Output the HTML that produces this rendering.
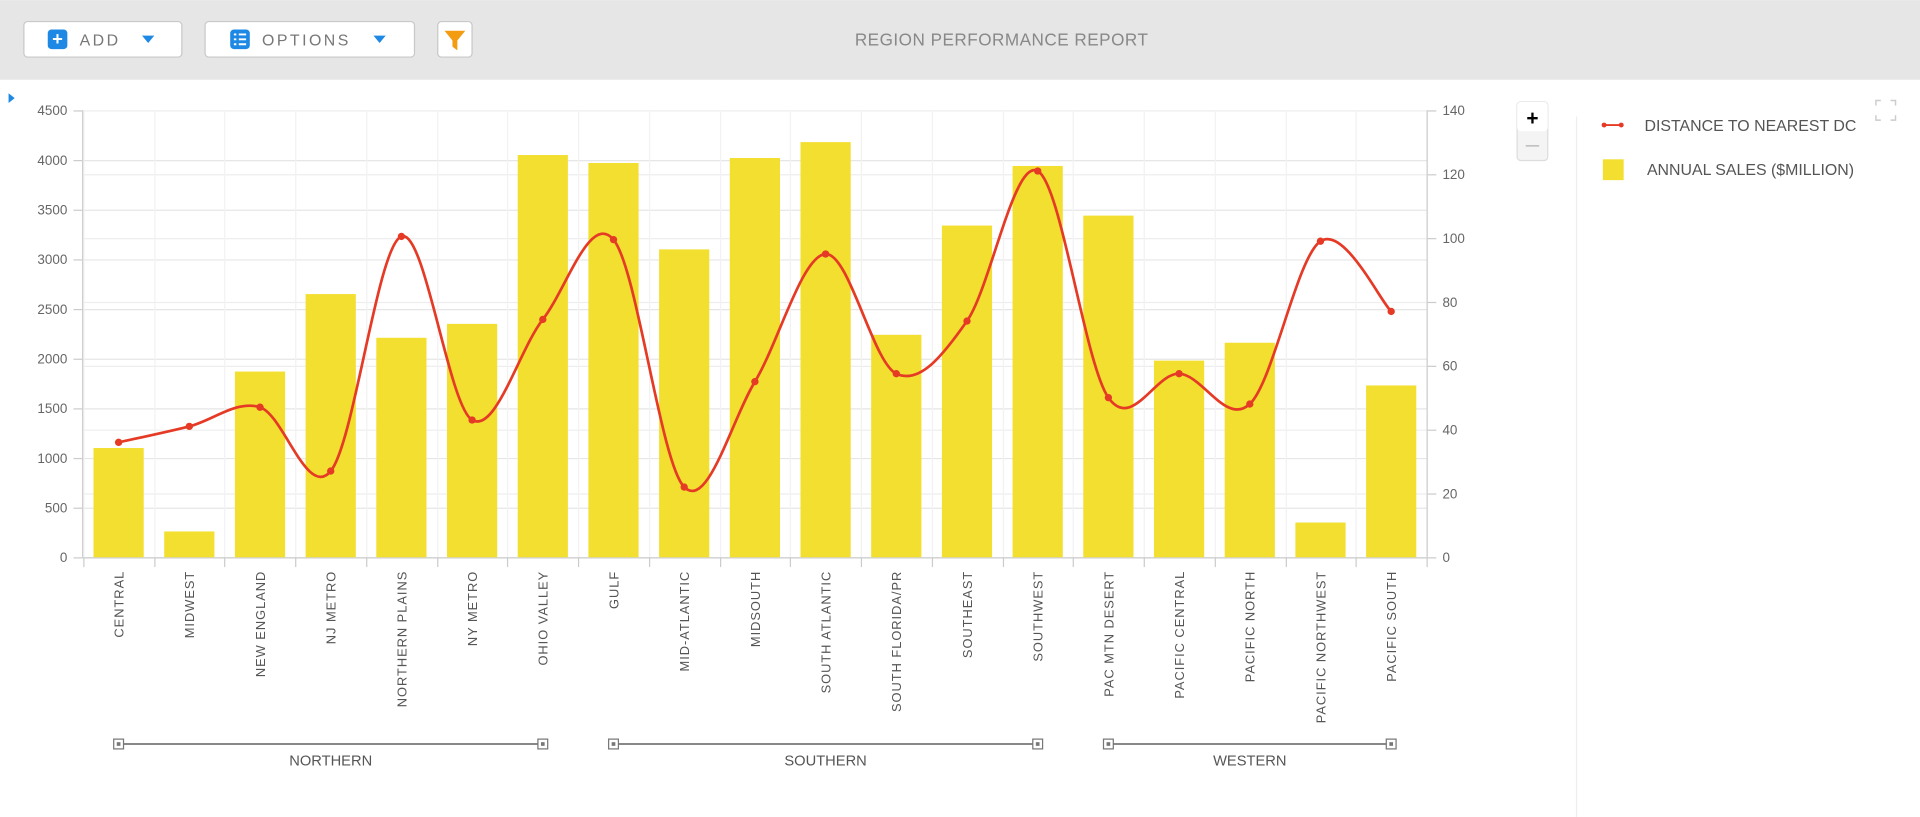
<!DOCTYPE html>
<html><head><meta charset="utf-8">
<style>
html,body{margin:0;padding:0;width:1920px;height:817px;overflow:hidden;background:#fff;font-family:"Liberation Sans",sans-serif;}
svg text{font-family:"Liberation Sans",sans-serif;}
</style></head>
<body>
<svg id="chart" width="1920" height="817" viewBox="0 0 1568 667" xmlns="http://www.w3.org/2000/svg">
  <rect x="0" y="0" width="1568" height="65" fill="#e6e6e6"/>
  <g>
    <rect x="19.5" y="17.5" width="129" height="29" rx="3" fill="#fff" stroke="#c8c8c8"/>
    <rect x="39" y="24" width="16" height="16" rx="3" fill="#1e88e5"/>
    <text x="47" y="36.5" font-size="15" fill="#fff" text-anchor="middle" font-weight="bold">+</text>
    <text x="65" y="37" font-size="13" fill="#777" letter-spacing="2">ADD</text>
    <path d="M116 29 L126 29 L121 35 Z" fill="#1e88e5"/>
  </g>
  <g>
    <rect x="167.5" y="17.5" width="171" height="29" rx="3" fill="#fff" stroke="#c8c8c8"/>
    <rect x="188" y="24" width="16" height="16" rx="3" fill="#1e88e5"/>
    <path d="M191 28h2M195 28h6M191 32h2M195 32h6M191 36h2M195 36h6" stroke="#fff" stroke-width="1.6"/>
    <text x="214" y="37" font-size="13" fill="#777" letter-spacing="2">OPTIONS</text>
    <path d="M305 29 L315 29 L310 35 Z" fill="#1e88e5"/>
  </g>
  <g>
    <rect x="357.5" y="17.5" width="28" height="29" rx="3" fill="#fff" stroke="#c8c8c8"/>
    <path d="M363 25 L380 25 L373.5 33 L373.5 41 L369.5 38 L369.5 33 Z" fill="#f39c12"/>
  </g>
  <text x="818" y="37" font-size="14" fill="#888" text-anchor="middle" letter-spacing="0.4">REGION PERFORMANCE REPORT</text>
  <path d="M7 76 L12 80 L7 84 Z" fill="#1e88e5"/>
  <line x1="1287.5" y1="95" x2="1287.5" y2="667" stroke="#eee"/>
  <g id="plot"></g>
  <g>
    <rect x="1239" y="83" width="25" height="48" rx="3" fill="#f4f4f4" stroke="#ddd"/>
    <rect x="1239" y="83" width="25" height="24" rx="3" fill="#fff"/>
    <text x="1251.5" y="102" font-size="17" text-anchor="middle" font-weight="bold" fill="#000">+</text>
    <line x1="1246" y1="119" x2="1257" y2="119" stroke="#bbb" stroke-width="1.2"/>
  </g>
  <path d="M1532 86v-4h4M1544 82h4v4M1548 94v4h-4M1536 98h-4v-4" fill="none" stroke="#ccc" stroke-width="1.2"/>
  <g>
    <line x1="1310" y1="102" x2="1324" y2="102" stroke="#e53a25" stroke-width="1.5"/>
    <circle cx="1310" cy="102" r="2" fill="#e53a25"/><circle cx="1324" cy="102" r="2" fill="#e53a25"/>
    <text x="1343" y="107" font-size="13" fill="#555">DISTANCE TO NEAREST DC</text>
  </g>
  <g>
    <rect x="1309" y="130" width="17" height="17" fill="#f2df30"/>
    <text x="1345" y="143" font-size="13" fill="#555">ANNUAL SALES ($MILLION)</text>
  </g>
</svg>
<script>
const categories=["CENTRAL","MIDWEST","NEW ENGLAND","NJ METRO","NORTHERN PLAINS","NY METRO","OHIO VALLEY","GULF","MID-ATLANTIC","MIDSOUTH","SOUTH ATLANTIC","SOUTH FLORIDA/PR","SOUTHEAST","SOUTHWEST","PAC MTN DESERT","PACIFIC CENTRAL","PACIFIC NORTH","PACIFIC NORTHWEST","PACIFIC SOUTH"];
const salesValues=[1100,260,1870,2650,2210,2350,4050,3970,3100,4020,4180,2240,3340,3940,3440,1980,2160,350,1730];
const distanceValues=[36,41,47,27,100.5,43,74.5,99.5,22,55,95,57.5,74,121,50,57.5,48,99,77];
const leftTicks=[0,500,1000,1500,2000,2500,3000,3500,4000,4500];
const rightTicks=[0,20,40,60,80,100,120,140];
const groupNames=["NORTHERN","SOUTHERN","WESTERN"];
const groupRanges=[[0,6],[7,13],[14,18]];

const NS="http://www.w3.org/2000/svg";
const plot=document.getElementById('plot');
const X0=68,X1=1165,Y0=455,Y1=90;
const band=(X1-X0)/categories.length;
const xC=i=>X0+band*(i+0.5);
const yL=v=>Y0-(v/4500)*(Y0-Y1);
const yR=v=>Y0-(v/140)*(Y0-Y1);
function mk(tag,attrs){const e=document.createElementNS(NS,tag);for(const k in attrs)e.setAttribute(k,attrs[k]);plot.appendChild(e);return e;}

leftTicks.forEach(t=>{
  const l=mk('line',{x1:X0,x2:X1,y1:yL(t)+0.5,y2:yL(t)+0.5,stroke:'#e6e6e6'});
  
  
  const tx=mk('text',{x:55,y:yL(t)+4,'font-size':11,fill:'#666','text-anchor':'end'});
  tx.textContent=t;
  
  
  mk('line',{x1:60,x2:68,y1:yL(t)+0.5,y2:yL(t)+0.5,stroke:'#ccc'});
});
rightTicks.forEach(t=>{
  const l=mk('line',{x1:X0,x2:X1,y1:yR(t)+0.5,y2:yR(t)+0.5,stroke:'#eeeeee'});
  
  
  const tx=mk('text',{x:1178,y:yR(t)+4,'font-size':11,fill:'#666'});
  tx.textContent=t;
  
  
  mk('line',{x1:1165,x2:1173,y1:yR(t)+0.5,y2:yR(t)+0.5,stroke:'#ccc'});
});
for(let i=0;i<=categories.length;i++){
  const x=Math.round(X0+band*i)+0.5;
  const v=mk('line',{x1:x,x2:x,y1:Y1,y2:Y0,stroke:'#f2f2f2'});
  
  
  mk('line',{x1:x,x2:x,y1:Y0,y2:Y0+8,stroke:'#ccc'});
}
mk('line',{x1:X0-0.5,x2:X0-0.5,y1:Y1,y2:Y0,stroke:'#ccc'});
mk('line',{x1:X1+0.5,x2:X1+0.5,y1:Y1,y2:Y0,stroke:'#ccc'});
mk('line',{x1:X0,x2:X1,y1:Y0+0.5,y2:Y0+0.5,stroke:'#ccc'});

salesValues.forEach((v,i)=>{
  const w=41;
  const b=mk('rect',{x:xC(i)-w/2,y:yL(v),width:w,height:Y0-yL(v),fill:'#f2df30'});
  
  
});

categories.forEach((c,i)=>{
  const x=xC(i)+4,y=466;
  const t=mk('text',{x:x,y:y,'font-size':10.5,fill:'#555','text-anchor':'end','letter-spacing':'0.8',transform:`rotate(-90 ${x} ${y})`});
  t.textContent=c;
  
  
});

const pts=distanceValues.map((v,i)=>[xC(i),yR(v)]);
let d=`M${pts[0][0]},${pts[0][1]}`;
for(let i=0;i<pts.length-1;i++){
  const p0=pts[i-1]||pts[i],p1=pts[i],p2=pts[i+1],p3=pts[i+2]||p2;
  const k=1/6;
  const c1=[p1[0]+(p2[0]-p0[0])*k,p1[1]+(p2[1]-p0[1])*k];
  const c2=[p2[0]-(p3[0]-p1[0])*k,p2[1]-(p3[1]-p1[1])*k];
  d+=` C${c1[0]},${c1[1]} ${c2[0]},${c2[1]} ${p2[0]},${p2[1]}`;
}
const line=mk('path',{d:d,fill:'none',stroke:'#e53a25','stroke-width':2.2});


pts.forEach(p=>{
  const c=mk('circle',{cx:p[0],cy:p[1],r:3,fill:'#e53a25'});
  
  
});

groupRanges.forEach((r,gi)=>{
  const xa=xC(r[0]),xb=xC(r[1]);
  const y=607.5;
  const l=mk('line',{x1:xa,x2:xb,y1:y,y2:y,stroke:'#777','stroke-width':1.5});
  
  
  [xa,xb].forEach(x=>{
    const s=mk('rect',{x:x-4,y:y-4,width:8,height:8,fill:'#fff',stroke:'#777'});
    
    
    mk('rect',{x:x-1.5,y:y-1.5,width:3,height:3,fill:'#777'});
  });
  const t=mk('text',{x:(xa+xb)/2,y:625,'font-size':12,fill:'#555','text-anchor':'middle'});
  t.textContent=groupNames[gi];
  
  
});
</script>
</body></html>
